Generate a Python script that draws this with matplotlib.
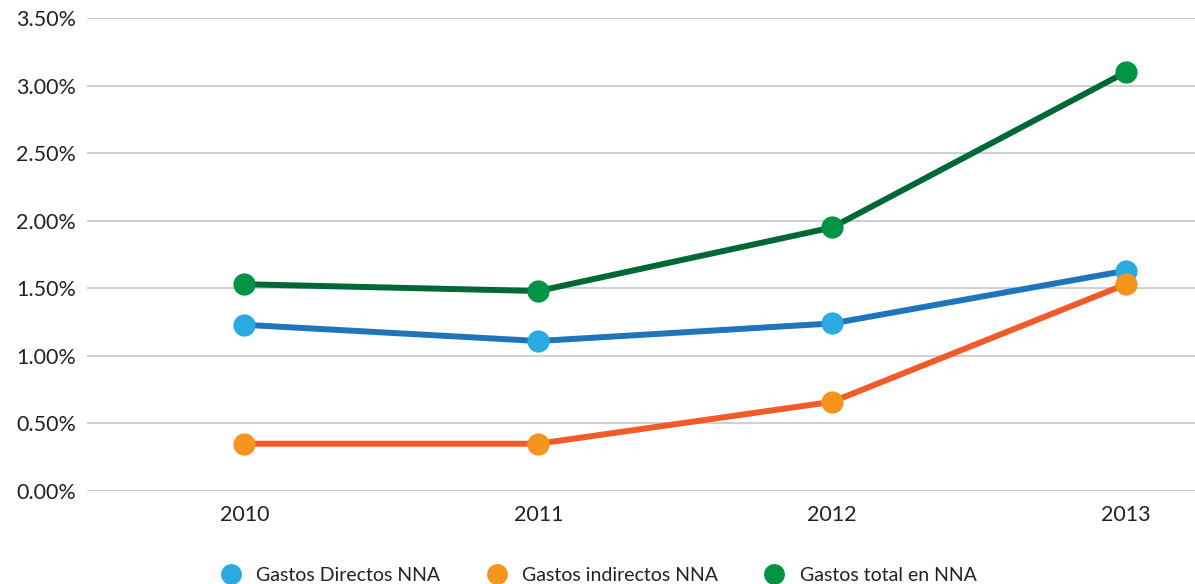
import matplotlib.pyplot as plt
from matplotlib.lines import Line2D
from matplotlib.ticker import FuncFormatter

# Data
years = ['2010', '2011', '2012', '2013']
directos = [1.23, 1.11, 1.24, 1.63]
indirectos = [0.35, 0.35, 0.66, 1.53]
total = [1.53, 1.48, 1.95, 3.10]
labels = ['Gastos Directos NNA', 'Gastos indirectos NNA', 'Gastos total en NNA']

plt.rcParams['font.family'] = ['Lato', 'DejaVu Sans']

fig = plt.figure(figsize=(11.95, 5.84), dpi=100)
ax = fig.add_axes([0.0728, 0.1592, 0.9272, 0.8100])

x = list(range(len(years)))
series = [
    (directos, '#1f75bc', '#29abe2'),
    (indirectos, '#f15a29', '#f7941d'),
    (total, '#006837', '#009444'),
]
for vals, lc, mc in series:
    ax.plot(x, vals, color=lc, lw=4.3, solid_capstyle='round', zorder=3)
    ax.plot(x, vals, 'o', color=mc, markersize=16, markeredgewidth=0, zorder=4)

ax.set_xlim(-0.536, 3.235)
ax.set_ylim(0, 3.5)
ax.set_yticks([0, 0.5, 1, 1.5, 2, 2.5, 3, 3.5])
ax.yaxis.set_major_formatter(FuncFormatter(lambda v, p: f'{v:.2f}%'))
ax.set_xticks(x)
ax.set_xticklabels(years)
ax.grid(axis='y', color='#c8c8c8', lw=1.2)
ax.set_axisbelow(True)
for s in ax.spines.values():
    s.set_visible(False)
ax.tick_params(axis='both', length=0, labelsize=15.5, colors='#222222')
ax.tick_params(axis='y', pad=8)
ax.tick_params(axis='x', pad=10)

handles = [Line2D([], [], marker='o', ls='none', color=c, markersize=15, markeredgewidth=0)
           for c in ['#29abe2', '#f7941d', '#009444']]
fig.legend(handles, labels, loc='lower center', ncol=3, frameon=False,
           bbox_to_anchor=(0.497, -0.03), fontsize=14, handletextpad=0.3,
           columnspacing=1.9, labelcolor='#222222')

fig.savefig('out.png', dpi=100)
